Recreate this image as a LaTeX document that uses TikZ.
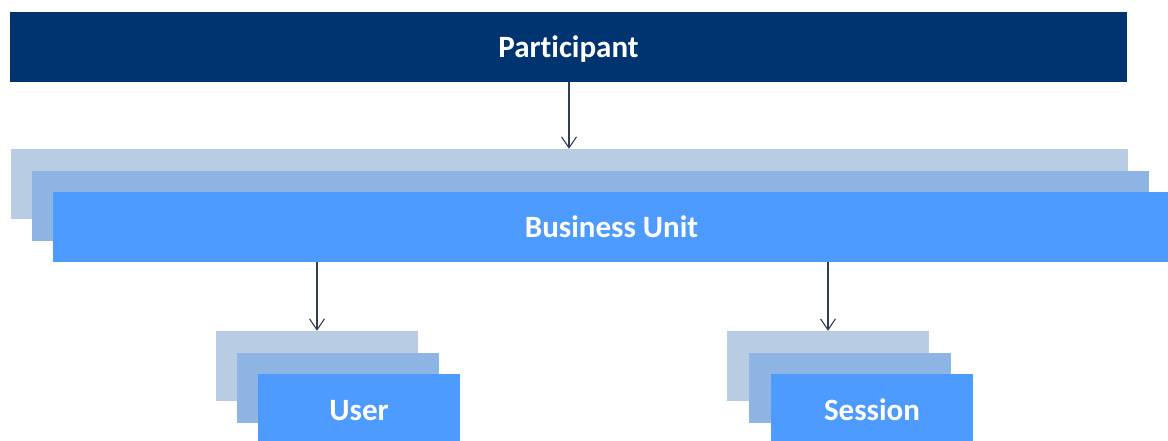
\documentclass[tikz,border=0pt]{standalone}
\usepackage{fontspec}
\setmainfont{Carlito}[Ligatures=NoCommon]
\usetikzlibrary{arrows.meta}

\definecolor{navy}{HTML}{003470}
\definecolor{layerA}{HTML}{B8CCE4}
\definecolor{layerB}{HTML}{8EB4E3}
\definecolor{layerC}{HTML}{4D9BFF}
\definecolor{linkcol}{HTML}{2F3E55}

\begin{document}
\begin{tikzpicture}[x=1pt, y=-1pt,
						every node/.style={rectangle, inner sep=0pt, text depth=0pt, text=white, font=\fontsize{31}{37}\selectfont\bfseries},
						wide/.style={minimum width=1117pt, minimum height=70pt},
						small/.style={minimum width=202pt, minimum height=70pt},
						link/.style={draw=linkcol, line width=1.1pt, -{Straight Barb[length=11pt,width=15pt]}}]
					\useasboundingbox (0,0) rectangle (1168,441);

					\node (P) [wide, fill=navy] at (568.5,47) {Participant};

					\node (BU3) [wide, fill=layerA] at (569,184) {};
					\node (BU2) [wide, fill=layerB] at (590.5,206) {};
					\node (BU) [wide, fill=layerC] at (611.5,227) {Business Unit};

					\node (U3) [small, fill=layerA] at (317,366) {};
					\node (U2) [small, fill=layerB] at (338,388) {};
					\node (U) [small, fill=layerC, minimum height=72pt] at (359,410) {User};

					\node (S3) [small, fill=layerA] at (828,366) {};
					\node (S2) [small, fill=layerB] at (850,388) {};
					\node (S) [small, fill=layerC, minimum height=72pt] at (872,410) {Session};

					\draw [link] (P.south -| BU3.north) -- (BU3.north);
					\draw [link] (BU.south -| U3.north) -- (U3.north);
					\draw [link] (BU.south -| S3.north) -- (S3.north);
				\end{tikzpicture}
\end{document}
